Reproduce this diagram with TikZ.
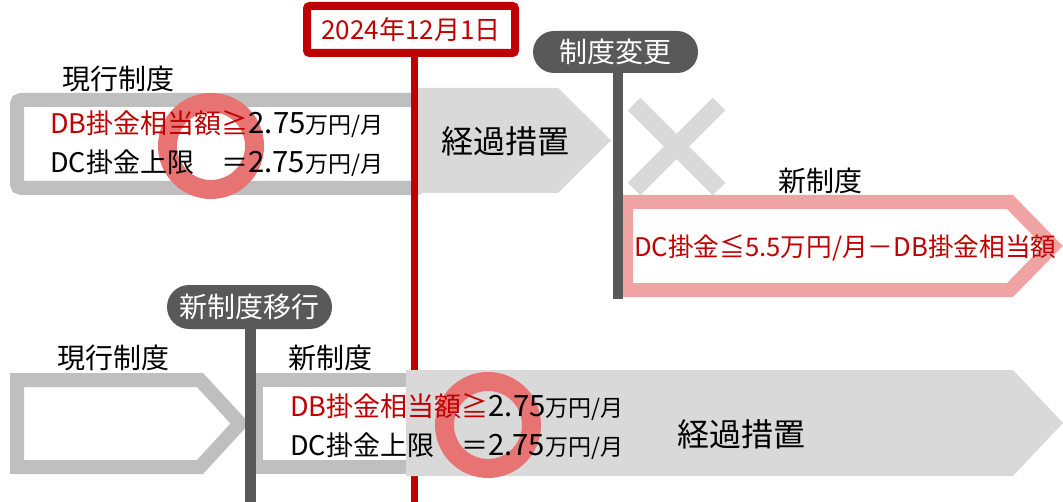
\documentclass[tikz,border=0pt]{standalone}
\usepackage{fontspec}
\setmainfont{Noto Sans CJK JP}
\definecolor{cred}{HTML}{C00000}
\definecolor{cpink}{HTML}{F0A3A3}
\definecolor{cring}{HTML}{E87373}
\definecolor{cgray}{HTML}{BFBFBF}
\definecolor{clight}{HTML}{D9D9D9}
\definecolor{cdark}{HTML}{595959}
\newcommand{\munit}{{\fontsize{17.25pt}{19pt}\selectfont 万円/月}}
\newcommand{\mval}{{\fontsize{22pt}{24pt}\selectfont 2.75}}
\begin{document}
\begin{tikzpicture}[x=0.75pt,y=-0.75pt,
  lbl/.style={font=\fontsize{21pt}{24pt}\selectfont, text=black, inner sep=0pt},
  kei/.style={font=\fontsize{24pt}{28pt}\selectfont, text=black, inner sep=0pt},
  boxtxt/.style={font=\fontsize{20.25pt}{24pt}\selectfont, text=black, inner sep=0pt, anchor=west},
  pilltxt/.style={fill=cdark, text=white, font=\fontsize{21pt}{24pt}\selectfont, inner sep=0pt, rounded corners=15.75pt, minimum height=31.5pt},
  grayb/.style={draw=cgray, line width=10.5pt, fill=white, line join=miter},
  pinkb/.style={draw=cpink, line width=10.5pt, fill=white, line join=miter},
  lightfill/.style={fill=clight, draw=none},
  dline/.style={draw=cdark, line width=7.5pt},
  rline/.style={draw=cred, line width=5.6pt},
  ringst/.style={draw=cring, line width=14.25pt},
  xbar/.style={draw=clight, line width=13.5pt, line cap=butt}
]
\useasboundingbox (0,0) rectangle (1063,502);

% ---------- top row ----------
\draw[grayb, rounded corners=3pt] (17,100) rectangle (420,188);
\fill[lightfill] (411,88) -- (558,88) -- (611,140.5) -- (558,193) -- (411,193) -- cycle;
\node[kei] (kei1) at (505,141) {経過措置};
\node[lbl] (cur1) at (118,79) {現行制度};

\draw[ringst] (211,146) circle (43.5);
\node[boxtxt] (db1) at (50,124) {\textcolor{cred}{DB掛金相当額≧}\mval\munit};
\node[boxtxt] (dc1) at (50,163) {DC掛金上限　＝\mval\munit};

% X mark
\coordinate (xa) at (634,104);
\coordinate (xb) at (719,189);
\coordinate (xc) at (634,189);
\coordinate (xd) at (719,104);
\draw[xbar] (xa) -- (xb);
\draw[xbar] (xc) -- (xd);

% new system (top)
\draw[pinkb] (626,202) -- (1010,202) -- (1053,246) -- (1010,290) -- (626,290) -- cycle;
\node[lbl] (new1) at (820,181) {新制度};
\node[font=\fontsize{19.25pt}{23pt}\selectfont, text=cred, inner sep=0pt, anchor=west] (dcn) at (634,248)
  {DC掛金≦5.5万円/月－DB掛金相当額};

% change pill + dark line
\node[pilltxt, minimum width=123.75pt] (chg) at (615.5,52) {制度変更};
\coordinate (chgend) at (617.5,299);
\draw[dline] (chgend |- chg.south) -- (chgend);

% ---------- date line ----------
\coordinate (redend) at (414.5,502);
\node[draw=cred, line width=6pt, fill=white, rounded corners=2pt, minimum width=156pt, minimum height=35.25pt,
      text=cred, font=\fontsize{19.5pt}{23pt}\selectfont, inner sep=0pt] (date) at (411,29.5) {2024年12月1日};
\draw[rline] (redend |- date.south) -- (redend);

% ---------- bottom row ----------
\draw[grayb] (17,380) -- (200,380) -- (240,423.5) -- (200,467) -- (17,467) -- cycle;
\draw[grayb] (256,380) rectangle (420,467);
\fill[lightfill] (406,370) -- (1013,370) -- (1063,423) -- (1013,476) -- (406,476) -- cycle;
\node[kei] (kei2) at (741,434) {経過措置};
\node[lbl] (cur2) at (113,358) {現行制度};
\node[lbl] (new2) at (330,358) {新制度};

\draw[ringst] (488,425) circle (43.5);
\node[boxtxt] (db2) at (290,407) {\textcolor{cred}{DB掛金相当額≧}\mval\munit};
\node[boxtxt] (dc2) at (290,446) {DC掛金上限　＝\mval\munit};

\node[pilltxt, minimum width=123.75pt, minimum height=33pt, rounded corners=16.5pt] (mig) at (249.5,307) {新制度移行};
\coordinate (migend) at (250.5,502);
\draw[dline, line width=8.25pt] (migend |- mig.south) -- (migend);
\end{tikzpicture}
\end{document}
